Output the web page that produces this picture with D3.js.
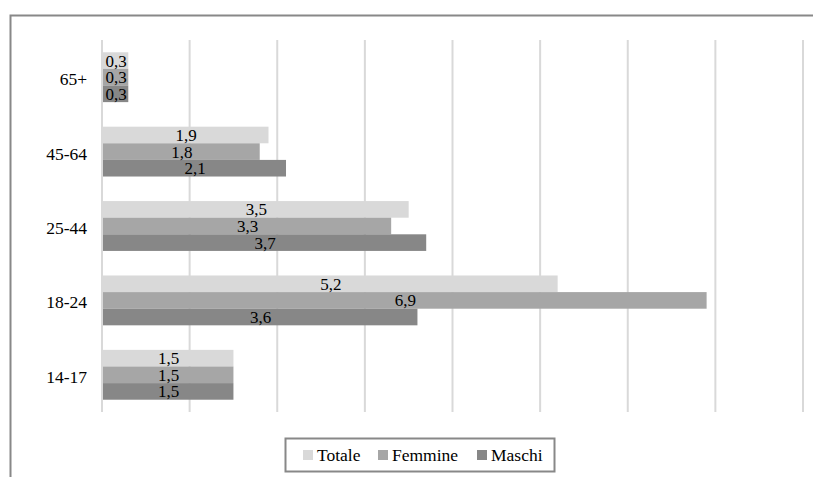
<!DOCTYPE html>
<html><head><meta charset="utf-8">
<script src="https://cdn.jsdelivr.net/npm/d3@7"></script>
<style>body{margin:0;background:#fff}svg{display:block}
svg text{font-family:"Liberation Serif","Times New Roman","Tinos","DejaVu Serif",serif;}</style>
</head><body>
<svg id="c" width="813" height="477"></svg>
<script>
const categories = ["65+","45-64","25-44","18-24","14-17"];
const seriesNames = ["Totale","Femmine","Maschi"];
const totale  = [0.3,1.9,3.5,5.2,1.5];
const femmine = [0.3,1.8,3.3,6.9,1.5];
const maschi  = [0.3,2.1,3.7,3.6,1.5];
const xTicks = [0,1,2,3,4,5,6,7,8];
const colors = ["#d9d9d9","#a6a6a6","#878787"];

const values = [totale, femmine, maschi];
const svg = d3.select("#c");

// frame
svg.append("path").attr("d","M10.5,477 L10.5,15.5 L813,15.5")
  .attr("fill","none").attr("stroke","#888").attr("stroke-width",2);

const x = d3.scaleLinear().domain([0,8]).range([102,803]);
const y = d3.scaleBand().domain(categories).range([40,412]).paddingInner(0.33).paddingOuter(0.165);
const ys = d3.scaleBand().domain(seriesNames).range([0,y.bandwidth()]);

// grid
svg.append("g").selectAll("line").data(xTicks).join("line")
  .attr("x1",d=>x(d)).attr("x2",d=>x(d)).attr("y1",40).attr("y2",412)
  .attr("stroke","#d9d9d9").attr("stroke-width",2);

// bars
const g = svg.append("g");
seriesNames.forEach((s,si)=>{
  categories.forEach((c,ci)=>{
    const v = values[si][ci];
    g.append("rect").attr("x",x(0)+1).attr("y",y(c)+ys(s))
      .attr("width",x(v)-x(0)-1).attr("height",ys.bandwidth())
      .attr("fill",colors[si]);
  });
});
seriesNames.forEach((s,si)=>{
  categories.forEach((c,ci)=>{
    const v = values[si][ci];
    g.append("text").attr("x",(x(0)+x(v))/2+1).attr("y",y(c)+ys(s)+ys.bandwidth()/2+6)
      .attr("text-anchor","middle").attr("font-size",17)
      .attr("fill","#000").text(String(v).replace(".",","));
  });
});

// category labels
svg.append("g").selectAll("text").data(categories).join("text")
  .attr("x",87).attr("y",d=>y(d)+y.bandwidth()/2+8)
  .attr("text-anchor","end").attr("font-size",17.5)
  .text(d=>d);

// legend
const lg = svg.append("g");
lg.append("rect").attr("x",285.5).attr("y",438.5).attr("width",269).attr("height",33)
  .attr("fill","#fff").attr("stroke","#888").attr("stroke-width",2);
const lx = [303,378,477];
seriesNames.forEach((s,i)=>{
  lg.append("rect").attr("x",lx[i]).attr("y",450).attr("width",10).attr("height",10).attr("fill",colors[i]);
  lg.append("text").attr("x",lx[i]+14).attr("y",461).attr("font-size",17.5).text(s);
});
</script>
</body></html>
